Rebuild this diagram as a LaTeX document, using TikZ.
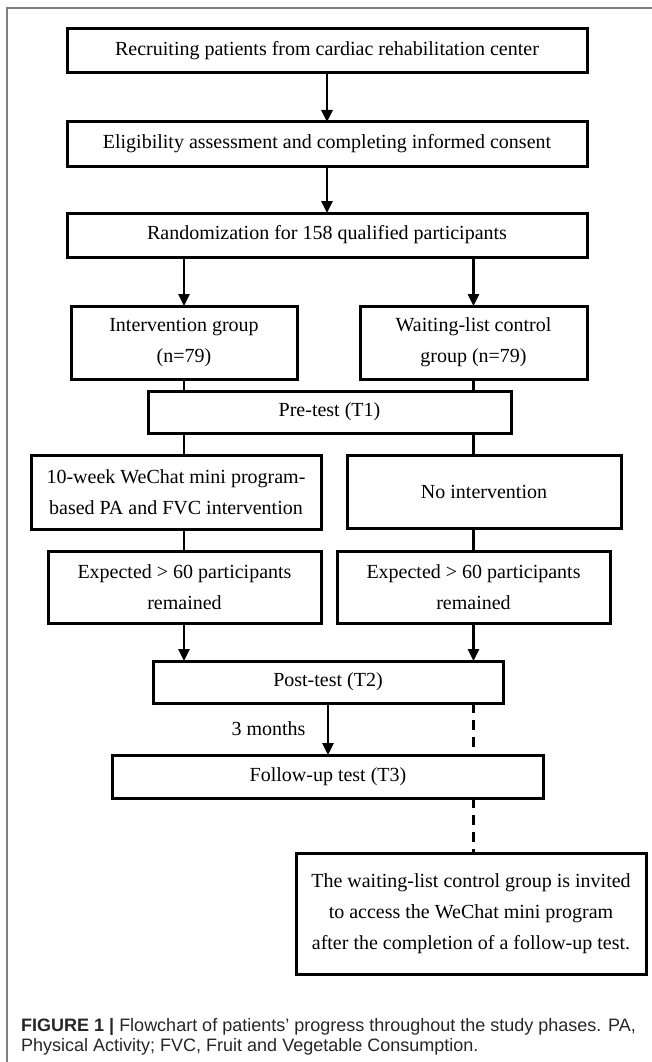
\documentclass[tikz,border=0pt]{standalone}
\usepackage{fontspec}
\setmainfont{Liberation Serif}
\setsansfont{Liberation Sans}
\usepackage{tikz}
\usetikzlibrary{arrows.meta, positioning, calc}

\begin{document}
\begin{tikzpicture}[
    x=1pt, y=-1pt,
    node distance=48pt,
    stepbox/.style={rectangle, minimum height=44pt, align=center, draw=black, line width=3pt, fill=white, inner sep=4pt, outer sep=0pt, font=\fontsize{20}{31}\selectfont},
    twobox/.style={stepbox, minimum height=73pt},
    arrow/.style={line width=2.5pt, -{Triangle[length=12pt, width=11pt]}},
    link/.style={line width=2.5pt},
    waitlink/.style={line width=2.5pt, dash pattern=on 10pt off 7pt}
]
\useasboundingbox (0,0) rectangle (652,1062);
\draw[gray, line width=1.5pt] (7,1062) -- (7,8) -- (652,8);

\node (rec) [stepbox, minimum width=520pt] at (327,51) {Recruiting patients from cardiac rehabilitation center};
\node (elig) [stepbox, minimum width=520pt, below=49pt of rec] {Eligibility assessment and completing informed consent};
\node (rand) [stepbox, minimum width=520pt, below=47pt of elig] {Randomization for 158 qualified participants};
\node (intv) [twobox, minimum width=226pt] at (184,342.5) {Intervention group\\(n=79)};
\node (wait) [twobox, minimum width=227pt] at (473.5,342.5) {Waiting-list control\\group (n=79)};
\node (pre) [stepbox, minimum width=363pt, minimum height=42pt] at (329.5,412) {Pre-test (T1)};
\node (tenwk) [twobox, minimum width=290pt, minimum height=74pt] at (176,492) {10-week WeChat mini program-\\based PA and FVC intervention};
\node (noint) [twobox, minimum width=274pt] at (484,491.5) {No intervention};
\node (expl) [twobox, minimum width=273pt, minimum height=72pt] at (184.5,587) {Expected > 60 participants\\remained};
\node (expr) [twobox, minimum width=273pt, minimum height=72pt] at (473.5,587.5) {Expected > 60 participants\\remained};
\node (post) [stepbox, minimum width=350pt, minimum height=42pt] at (328,682) {Post-test (T2)};
\node (follow) [stepbox, minimum width=431pt, minimum height=43pt, below=52pt of post] {Follow-up test (T3)};
\node (final) [stepbox, minimum width=350pt, minimum height=121pt] at (471,913.5) {The waiting-list control group is invited\\to access the WeChat mini program\\after the completion of a follow-up test.};

\draw [arrow] (rec) -- (elig);
\draw [arrow] (elig) -- (rand);
\draw [arrow] (rand.south -| intv) -- (intv.north);
\draw [arrow] (rand.south -| wait) -- (wait.north);
\draw [link] (intv.south) -- (pre.north -| intv);
\draw [link] (wait.south) -- (pre.north -| wait);
\draw [link] (pre.south -| intv) -- (tenwk.north -| intv);
\draw [link] (pre.south -| wait) -- (noint.north -| wait);
\draw [link] (tenwk.south -| intv) -- (expl.north -| intv);
\draw [link] (noint.south -| wait) -- (expr.north -| wait);
\draw [arrow] (expl.south -| intv) -- (post.north -| intv);
\draw [arrow] (expr.south -| wait) -- (post.north -| wait);
\draw [arrow] (post) -- node[left=18pt, font=\fontsize{20}{24}\selectfont] {3 months} (follow);
\draw [waitlink] (post.south -| wait) -- (follow.north -| wait);
\draw [waitlink] (follow.south -| wait) -- (final.north -| wait);

\node (caption) [anchor=north west, align=left, inner sep=0pt, text=black!85, font=\sffamily\fontsize{18}{20}\selectfont] at (21,1018) {\textbf{FIGURE 1 |} Flowchart of patients’ progress throughout the study phases. PA,\\Physical Activity; FVC, Fruit and Vegetable Consumption.};

\end{tikzpicture}
\end{document}
